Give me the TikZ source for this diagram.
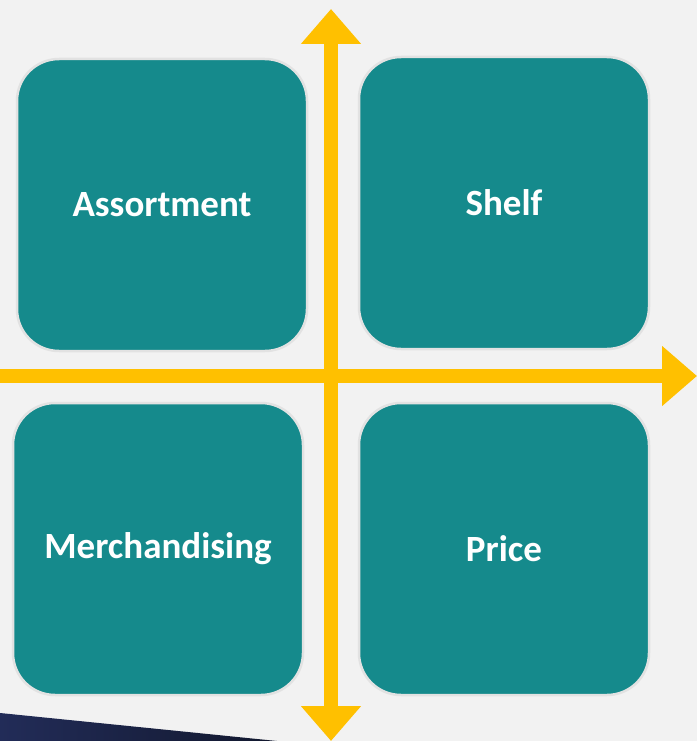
\documentclass[tikz,border=0pt]{standalone}
\usepackage{fontspec}
\setmainfont{Carlito}
\usetikzlibrary{arrows.meta}
\definecolor{quadteal}{RGB}{21,138,140}
\definecolor{quadedge}{RGB}{226,226,226}
\definecolor{axisyellow}{RGB}{255,192,0}
\definecolor{pagegray}{RGB}{242,242,242}
\definecolor{navyA}{RGB}{34,44,88}
\definecolor{navyB}{RGB}{18,24,46}
\begin{document}
\begin{tikzpicture}[x=1pt,y=-1pt,
		quad/.style={draw=quadedge,line width=2.5pt,fill=quadteal,rounded corners=42pt,minimum width=290pt,minimum height=292pt,inner sep=0pt,text=white,font=\fontsize{37}{44}\selectfont\bfseries},
		axis/.style={draw=axisyellow,line width=14pt},
		tip/.tip={Triangle[width=58pt,length=35pt]}]
				\fill[pagegray] (0,0) rectangle (697,741);
				\useasboundingbox (0,0) rectangle (697,741);
				\shade[left color=navyA,right color=navyB] (0,713) -- (277,741) -- (0,741) -- cycle;
				\foreach \px/\py/\nm/\txt in {162/205/assort/Assortment,504/203/shelf/Shelf,158/549/merch/Merchandising,504/549/price/Price}{
					\node[quad] (\nm) at (\px,\py) {\txt};
				}
				\coordinate (ytop) at (331,9);
				\coordinate (ybot) at (331,741);
				\coordinate (xleft) at (0,376);
				\coordinate (xright) at (697,376);
				\draw[axis,-{tip}] (xleft) -- (xright);
				\draw[axis,{tip}-{tip}] (ybot) -- (ytop);
			\end{tikzpicture}
\end{document}
